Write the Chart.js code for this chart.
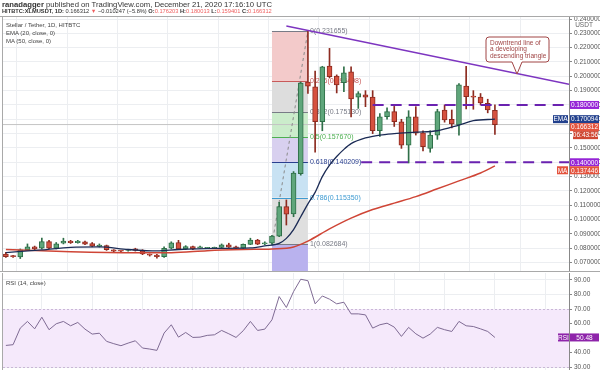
<!DOCTYPE html>
<html>
<head>
<meta charset="utf-8">
<script src="https://cdn.jsdelivr.net/npm/chart.js@4.4.0/dist/chart.umd.min.js"></script>
<style>
  body { margin: 0; width: 600px; height: 370px; overflow: hidden; background: #fff; position: relative;
         font-family: "Liberation Sans", Arial, sans-serif; color: #333; }
  canvas { position: absolute; left: 0; }
  #main { top: 0; }
  #rsi { top: 272px; }
  .txt { position: absolute; white-space: nowrap; line-height: 1; }
  #hdr1 { left: 2px; top: 1px; font-size: 7.7px; }
  #hdr2 { left: 2px; top: 8.5px; font-size: 5.7px; }
  .red { color: #ef5f5f; }
  .leg { left: 6px; font-size: 6px; color: #444; }
</style>
</head>
<body>
<canvas id="main" width="600" height="272"></canvas>
<canvas id="rsi" width="600" height="98"></canvas>
<div class="txt" id="hdr1"><b>ranadagger</b> published on TradingView.com, December 21, 2020 17:16:10 UTC</div>
<div class="txt" id="hdr2"><b>HITBTC:XLMUSDT, 1D:</b> 0.166312 <span class="red">▼</span> −0.010247 (−5.8%) <b>O:</b><span class="red">0.176203</span> <b>H:</b><span class="red">0.180013</span> <b>L:</b><span class="red">0.159401</span> <b>C:</b><span class="red">0.166312</span></div>
<div class="txt leg" style="top:22px">Stellar / Tether, 1D, HITBTC</div>
<div class="txt leg" style="top:30px">EMA (20, close, 0)</div>
<div class="txt leg" style="top:38px">MA (50, close, 0)</div>
<div class="txt leg" style="top:280px">RSI (14, close)</div>
<script>
// daily candles
const opens  = [0.0760,0.0743,0.0740,0.0788,0.0810,0.0800,0.0846,0.0800,0.0836,0.0850,0.0838,0.0845,0.0832,0.0812,0.0818,0.0788,0.0781,0.0784,0.0795,0.0783,0.0755,0.0753,0.0741,0.0800,0.0840,0.0795,0.0812,0.0803,0.0800,0.0800,0.0805,0.0823,0.0810,0.0800,0.0827,0.0857,0.0830,0.0835,0.0885,0.1090,0.1040,0.1320,0.1960,0.1927,0.1683,0.2072,0.2002,0.1955,0.2032,0.1855,0.1870,0.1855,0.1620,0.1718,0.1753,0.1683,0.1520,0.1718,0.1606,0.1497,0.1590,0.1765,0.1700,0.1660,0.1932,0.1858,0.1855,0.1812,0.176203];
const highs  = [0.0772,0.0750,0.0795,0.0830,0.0815,0.0870,0.0855,0.0840,0.0870,0.0855,0.0855,0.0850,0.0840,0.0830,0.0822,0.0790,0.0784,0.0793,0.0800,0.0790,0.0760,0.0757,0.0810,0.0845,0.0855,0.0818,0.0815,0.0815,0.0806,0.0808,0.0830,0.0835,0.0815,0.0830,0.0870,0.0862,0.0845,0.0890,0.1120,0.1137,0.1335,0.1960,0.231655,0.2037,0.2070,0.2195,0.2010,0.2067,0.2067,0.1893,0.1900,0.1900,0.1740,0.1780,0.1790,0.1700,0.1760,0.1788,0.1620,0.1620,0.1770,0.1800,0.1765,0.1950,0.2070,0.1900,0.1880,0.1840,0.180013];
const lows   = [0.0735,0.0735,0.0728,0.0785,0.0790,0.0795,0.0795,0.0795,0.0830,0.0833,0.0835,0.0825,0.0810,0.0808,0.0785,0.0776,0.0770,0.0780,0.0780,0.0755,0.0745,0.0730,0.0735,0.0795,0.0790,0.0790,0.0790,0.0800,0.0797,0.0798,0.0800,0.0805,0.0798,0.0798,0.0825,0.0825,0.0825,0.082684,0.0880,0.0962,0.1020,0.1310,0.1880,0.1470,0.1620,0.1990,0.1884,0.1893,0.1716,0.1776,0.1788,0.1600,0.1580,0.1700,0.1650,0.1497,0.1395,0.1590,0.1480,0.1470,0.1560,0.1680,0.1640,0.1590,0.1772,0.1770,0.1800,0.1745,0.159401];
const closes = [0.0741,0.0741,0.0788,0.0810,0.0795,0.0846,0.0800,0.0830,0.0850,0.0838,0.0850,0.0828,0.0815,0.0822,0.0790,0.0780,0.0780,0.0790,0.0785,0.0760,0.0752,0.0741,0.0800,0.0838,0.0795,0.0812,0.0795,0.0805,0.0802,0.0806,0.0823,0.0808,0.0800,0.0827,0.0857,0.0829,0.0832,0.0885,0.1090,0.1038,0.1325,0.1953,0.1932,0.1683,0.2067,0.1997,0.1940,0.2025,0.1842,0.1880,0.1855,0.1620,0.1718,0.1753,0.1683,0.1520,0.1718,0.1604,0.1509,0.1590,0.1753,0.1695,0.1667,0.1940,0.1858,0.1855,0.1815,0.1765,0.166312];

// EMA 20 and MA 50, read at a few candles
const emaIdx = [0,5,9,13,17,21,24,29,34,36,38,39,40,41,42,43,44,45,46,47,48,50,52,54,57,60,63,65,68];
const emaVal = [0.0770,0.0788,0.0806,0.0809,0.0791,0.0781,0.0791,0.0799,0.0802,0.0816,0.0834,0.0869,0.0930,0.1020,0.1110,0.1190,0.1300,0.1380,0.1440,0.1490,0.1530,0.1570,0.1590,0.1600,0.1610,0.1620,0.1660,0.1690,0.170094];
const maIdx = [0,9,18,23,28,33,37,40,42,45,48,51,54,57,60,63,66,68];
const maVal = [0.0791,0.0776,0.0769,0.0769,0.0783,0.0791,0.0795,0.0809,0.0850,0.0935,0.1010,0.1070,0.1115,0.1160,0.1215,0.1270,0.1325,0.137446];

// RSI 14
const rsiVal = [45.0,45.5,56.9,61.5,56.4,64.4,55.8,59.9,61.5,58.5,60.8,56.2,52.8,53.4,47.8,46.2,44.8,46.6,48.2,43.2,42.5,41.6,53.5,59.2,50.7,53.9,50.5,50.7,51.9,52.3,55.3,53.0,50.5,55.1,61.5,55.3,56.2,62.6,78.6,71.1,82.0,90.5,89.5,73.6,79.0,76.8,73.6,74.7,66.7,66.7,66.0,56.9,59.2,60.3,57.6,51.2,57.4,53.0,50.0,52.8,57.4,55.8,54.6,61.5,58.5,58.0,56.4,54.6,50.48];

// fibonacci retracement from candle 37 to 42
const fibRatios = [0, 0.236, 0.382, 0.5, 0.618, 0.786, 1, 1.618];
const fibPrices = [0.231655, 0.196498, 0.175130, 0.157670, 0.140209, 0.115350, 0.082684, -0.009];
const fibFrom = 37, fibTo = 42;

// drawn levels
const trendLine = [{x: 39.0, y: 0.2351}, {x: 78.3, y: 0.1944}];
const resistance = 0.18, support = 0.14;
const resistFrom = 51, supportFrom = 49.4;

const priceTicks = [0.07,0.08,0.09,0.10,0.11,0.12,0.13,0.14,0.15,0.16,0.17,0.18,0.19,0.20,0.21,0.22,0.23,0.24];
const rsiTicks = [30,40,50,60,70,80,90];
const gridIdx = [5,12,19,26,33,40,47,54,61,68,75];
const xMin = -0.4, xMax = 78.3;

Chart.defaults.font.family = '"Liberation Sans", Arial, sans-serif';

const UP = '#5fa67b', UP_B = '#2f6f48', DN = '#d6513f', DN_B = '#8c2b20';
const idx = closes.map((c, i) => i);
const isUp = idx.map(i => closes[i] >= opens[i]);

const fibFill = ['#f3caca', '#dddddd', '#cbeccb', '#d8d0ef', '#c8e2f3', '#dfdfdf', '#b9b2ee'];
const fibColor = ['#787b86', '#c85a5a', '#787b86', '#4caf50', '#2a3f8f', '#3d9ad1', '#787b86'];

const fibPlugin = {
  id: 'fib',
  beforeDatasetsDraw(chart) {
    const {ctx, chartArea: a, scales: {x, y}} = chart;
    const x0 = x.getPixelForValue(fibFrom), x1 = x.getPixelForValue(fibTo);
    ctx.save();
    ctx.beginPath();
    ctx.rect(a.left, a.top, a.right - a.left, a.bottom - a.top);
    ctx.clip();
    for (let k = 0; k < fibPrices.length - 1; k++) {
      const ya = y.getPixelForValue(fibPrices[k]), yb = y.getPixelForValue(fibPrices[k + 1]);
      ctx.fillStyle = fibFill[k];
      ctx.fillRect(x0, ya, x1 - x0, yb - ya);
    }
    ctx.font = '7px "Liberation Sans", Arial, sans-serif';
    ctx.textBaseline = 'middle';
    for (let k = 0; k < fibPrices.length - 1; k++) {
      const yy = Math.round(y.getPixelForValue(fibPrices[k])) + 0.5;
      ctx.strokeStyle = fibColor[k];
      ctx.lineWidth = 1;
      ctx.beginPath(); ctx.moveTo(x0, yy); ctx.lineTo(x1, yy); ctx.stroke();
      ctx.fillStyle = fibColor[k];
      ctx.fillText(fibRatios[k] + '(' + fibPrices[k].toFixed(6) + ')', x1 + 2, yy);
    }
    ctx.restore();
  }
};

function tag(ctx, x, y, w, text, bg) {
  ctx.fillStyle = bg;
  ctx.fillRect(x, y - 4, w, 8);
  ctx.fillStyle = '#fff';
  ctx.textAlign = 'center';
  ctx.fillText(text, x + w / 2, y + 0.5);
}

const mainTags = {
  id: 'mainTags',
  afterDraw(chart) {
    const {ctx, chartArea: a, scales: {y}} = chart;
    ctx.save();
    // frame
    ctx.strokeStyle = '#a9a9a9';
    ctx.lineWidth = 1;
    ctx.beginPath();
    ctx.moveTo(0, a.top - 0.5); ctx.lineTo(600, a.top - 0.5);
    ctx.moveTo(a.left - 0.5, a.top); ctx.lineTo(a.left - 0.5, a.bottom);
    ctx.moveTo(0, a.bottom - 0.5); ctx.lineTo(600, a.bottom - 0.5);
    ctx.stroke();

    ctx.font = '6.5px "Liberation Sans", Arial, sans-serif';
    ctx.textBaseline = 'middle';
    ctx.fillStyle = '#666';
    ctx.textAlign = 'center';
    ctx.fillText('USDT', 584, a.top + 8);

    const ax = a.right + 1;
    const last = closes.length - 1;
    const yR = y.getPixelForValue(resistance);
    const yE = y.getPixelForValue(emaVal[emaVal.length - 1]);
    let yC = y.getPixelForValue(closes[last]);
    if (yC < yE + 8) yC = yE + 8;
    const yT = yC + 8;
    const yS = y.getPixelForValue(support);
    let yM = y.getPixelForValue(maVal[maVal.length - 1]);
    if (yM < yS + 8) yM = yS + 8;

    tag(ctx, ax, yR, 29, resistance.toFixed(6), '#9524d6');
    tag(ctx, a.right - 16, yE, 15, 'EMA', '#22408d');
    tag(ctx, ax, yE, 29, emaVal[emaVal.length - 1].toFixed(6), '#22408d');
    tag(ctx, ax, yC, 29, closes[last].toFixed(6), '#e4533d');
    tag(ctx, ax + 3, yT, 25, '06:43:56', '#cf4733');
    tag(ctx, ax, yS, 29, support.toFixed(6), '#9524d6');
    tag(ctx, a.right - 12, yM, 11, 'MA', '#e4533d');
    tag(ctx, ax, yM, 29, maVal[maVal.length - 1].toFixed(6), '#e4533d');

    // callout
    const bx = 486, by = 37, bw = 63, bh = 25, r = 3;
    ctx.fillStyle = '#fff';
    ctx.strokeStyle = '#a04545';
    ctx.lineWidth = 1;
    ctx.beginPath();
    ctx.moveTo(bx + r, by);
    ctx.lineTo(bx + bw - r, by); ctx.arcTo(bx + bw, by, bx + bw, by + r, r);
    ctx.lineTo(bx + bw, by + bh - r); ctx.arcTo(bx + bw, by + bh, bx + bw - r, by + bh, r);
    ctx.lineTo(522, by + bh); ctx.lineTo(517, 74); ctx.lineTo(512, by + bh);
    ctx.lineTo(bx + r, by + bh); ctx.arcTo(bx, by + bh, bx, by + bh - r, r);
    ctx.lineTo(bx, by + r); ctx.arcTo(bx, by, bx + r, by, r);
    ctx.closePath();
    ctx.fill(); ctx.stroke();
    ctx.fillStyle = '#a04545';
    ctx.textAlign = 'left';
    ctx.font = '6.5px "Liberation Sans", Arial, sans-serif';
    ctx.fillText('Downtrend line of', bx + 4, by + 6);
    ctx.fillText('a developing', bx + 4, by + 12.5);
    ctx.fillText('descending triangle', bx + 4, by + 19);
    ctx.restore();
  }
};

const xScale = {
  type: 'linear', min: xMin, max: xMax, offset: false,
  ticks: { display: false },
  grid: { color: '#eceef1', drawTicks: false },
  border: { display: false },
  afterBuildTicks: s => { s.ticks = gridIdx.map(v => ({value: v})); },
  afterFit: s => { s.height = 0; s.paddingLeft = 0; s.paddingRight = 0; }
};

// keep the panes' plot areas exactly where the layout padding puts them
const noPad = s => { s.width = 31; s.paddingTop = 0; s.paddingBottom = 0; };

new Chart(document.getElementById('main'), {
  type: 'bar',
  data: {
    datasets: [
      { type: 'line', label: 'fib', data: [{x: fibFrom, y: fibPrices[6]}, {x: fibTo, y: fibPrices[0]}],
        borderColor: '#8a8a8a', borderWidth: 1, borderDash: [3, 3], pointRadius: 0, order: 6 },
      { label: 'wick', data: idx.map(i => ({x: i, y: [lows[i], highs[i]]})),
        backgroundColor: idx.map(i => isUp[i] ? UP_B : DN_B), barThickness: 1, grouped: false, order: 5 },
      { label: 'body', data: idx.map(i => ({x: i, y: [opens[i], closes[i]]})),
        backgroundColor: idx.map(i => isUp[i] ? UP : DN), borderColor: idx.map(i => isUp[i] ? UP_B : DN_B),
        borderWidth: 1, borderSkipped: false, barThickness: 5, minBarLength: 1, grouped: false, order: 4 },
      { type: 'line', label: 'close', data: [{x: xMin, y: closes[closes.length - 1]}, {x: xMax, y: closes[closes.length - 1]}],
        borderColor: '#c4c4c4', borderWidth: 1, pointRadius: 0, order: 7 },
      { type: 'line', label: 'MA', data: maIdx.map((v, k) => ({x: v, y: maVal[k]})),
        borderColor: '#cf4536', borderWidth: 1.5, pointRadius: 0, cubicInterpolationMode: 'monotone', order: 2 },
      { type: 'line', label: 'EMA', data: emaIdx.map((v, k) => ({x: v, y: emaVal[k]})),
        borderColor: '#1b2b55', borderWidth: 1.3, pointRadius: 0, cubicInterpolationMode: 'monotone', order: 1 },
      { type: 'line', label: 'trend', data: trendLine,
        borderColor: '#7d35c0', borderWidth: 1.4, pointRadius: 0, order: 0 },
      { type: 'line', label: 'res', data: [{x: resistFrom, y: resistance}, {x: xMax, y: resistance}],
        borderColor: '#6a22b0', borderWidth: 2, borderDash: [11, 7], pointRadius: 0, order: 0 },
      { type: 'line', label: 'sup', data: [{x: supportFrom, y: support}, {x: xMax, y: support}],
        borderColor: '#6a22b0', borderWidth: 2, borderDash: [11, 7], pointRadius: 0, order: 0 }
    ]
  },
  options: {
    responsive: false, animation: false, devicePixelRatio: 1,
    layout: { padding: { top: 17, left: 3, right: 0, bottom: 0 } },
    plugins: { legend: { display: false }, tooltip: { enabled: false } },
    scales: {
      x: xScale,
      y: {
        position: 'right', min: 0.06341, max: 0.2414,
        afterBuildTicks: s => { s.ticks = priceTicks.map(v => ({value: v})); },
        afterFit: noPad,
        ticks: { callback: v => v.toFixed(6), font: { size: 6.5 }, color: '#555', padding: 2, autoSkip: false },
        grid: { color: '#eceef1', tickColor: '#888', tickLength: 3 },
        border: { color: '#888' }
      }
    }
  },
  plugins: [fibPlugin, mainTags]
});

const rsiBand = {
  id: 'rsiBand',
  beforeDatasetsDraw(chart) {
    const {ctx, chartArea: a, scales: {y}} = chart;
    const y70 = y.getPixelForValue(70), y30 = y.getPixelForValue(30);
    ctx.save();
    ctx.fillStyle = '#f5e9fb';
    ctx.fillRect(a.left, y70, a.right - a.left, y30 - y70);
    ctx.strokeStyle = '#c9b7d6';
    ctx.setLineDash([2, 2]);
    ctx.beginPath();
    ctx.moveTo(a.left, Math.round(y70) + 0.5); ctx.lineTo(a.right, Math.round(y70) + 0.5);
    ctx.moveTo(a.left, Math.round(y30) + 0.5); ctx.lineTo(a.right, Math.round(y30) + 0.5);
    ctx.stroke();
    ctx.restore();
  },
  afterDraw(chart) {
    const {ctx, chartArea: a, scales: {y}} = chart;
    ctx.save();
    ctx.strokeStyle = '#a9a9a9';
    ctx.beginPath();
    ctx.moveTo(a.left - 0.5, a.top); ctx.lineTo(a.left - 0.5, a.bottom);
    ctx.stroke();
    ctx.font = '6.5px "Liberation Sans", Arial, sans-serif';
    ctx.textBaseline = 'middle';
    const yr = y.getPixelForValue(rsiVal[rsiVal.length - 1]);
    tag(ctx, a.right - 11, yr, 11, 'RSI', '#8e24aa');
    tag(ctx, a.right + 1, yr, 29, rsiVal[rsiVal.length - 1].toFixed(2), '#8e24aa');
    ctx.restore();
  }
};

new Chart(document.getElementById('rsi'), {
  type: 'line',
  data: {
    datasets: [{ label: 'RSI', data: idx.map(i => ({x: i, y: rsiVal[i]})),
      borderColor: '#7f6b94', borderWidth: 1, pointRadius: 0 }]
  },
  options: {
    responsive: false, animation: false, devicePixelRatio: 1,
    layout: { padding: { top: 1, left: 3, right: 0, bottom: 0 } },
    plugins: { legend: { display: false }, tooltip: { enabled: false } },
    scales: {
      x: xScale,
      y: {
        position: 'right', min: 28.1, max: 94.8,
        afterBuildTicks: s => { s.ticks = rsiTicks.map(v => ({value: v})); },
        afterFit: noPad,
        ticks: { callback: v => v.toFixed(2), font: { size: 6.5 }, color: '#555', padding: 2, autoSkip: false },
        grid: { color: '#eceef1', tickColor: '#888', tickLength: 3 },
        border: { color: '#888' }
      }
    }
  },
  plugins: [rsiBand]
});
</script>
</body>
</html>
